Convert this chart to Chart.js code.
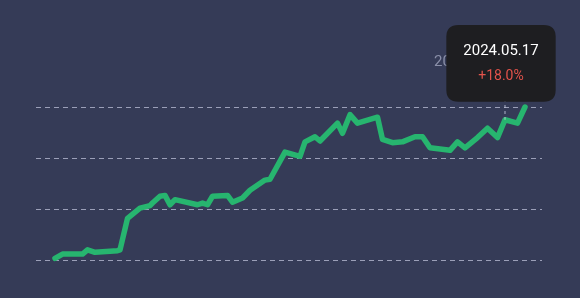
<!DOCTYPE html>
<html>
<head>
<meta charset="utf-8">
<script src="https://cdn.jsdelivr.net/npm/chart.js@4.4.1/dist/chart.umd.min.js"></script>
<style>
    html, body { margin: 0; padding: 0; background: #353b57; }
    #wrap { width: 580px; height: 298px; }
</style>
</head>
<body>
<div id="wrap"><canvas id="returns-chart"></canvas></div>
<script>
// Dias desde el inicio (eje X) y rendimiento acumulado en %
const dayIndex = [0, 3, 11, 13, 16, 25, 26, 29, 34, 38, 39, 42, 44, 46, 48, 57, 59, 61, 63, 69,
    71, 75, 78, 84, 86, 92, 98, 100, 104, 106, 113, 115, 118, 121, 129, 131, 135, 139, 144, 147,
    150, 158, 161, 164, 169, 173, 177, 180, 185, 188];
const returnPct = [0.2, 0.7, 0.7, 1.2, 0.9, 1.1, 1.2, 4.9, 6.1, 6.4, 6.7, 7.5, 7.6, 6.5, 7.1, 6.5, 6.7, 6.5, 7.5, 7.6,
    6.8, 7.3, 8.2, 9.4, 9.5, 12.7, 12.2, 13.9, 14.5, 14.0, 16.1, 14.9, 17.1, 16.1, 16.8, 14.2, 13.8, 13.9, 14.5, 14.5,
    13.2, 12.9, 13.9, 13.2, 14.4, 15.5, 14.4, 16.5, 16.1, 18.0];
const yTicks = [0, 6, 12, 18];
const tooltipDate = '2024.05.17';
const tooltipValue = '+18.0%';

Chart.Tooltip.positioners.aboveChart = function (elements) {
    if (!elements.length) return false;
    const el = elements[0].element;
    return { x: el.x - 24, y: this.chart.chartArea.top - 82 };
};

// texto gris detras del tooltip + linea de cruce
const overlayPlugin = {
    id: 'overlay',
    afterDatasetsDraw(chart) {
        const { ctx, chartArea } = chart;
        const pt = chart.getDatasetMeta(0).data[47];
        ctx.save();
        ctx.font = '15px Roboto';
        ctx.fillStyle = '#8a8fa8';
        ctx.textBaseline = 'middle';
        ctx.fillText(tooltipDate, chartArea.right - 108, chartArea.top - 45);
        ctx.strokeStyle = 'rgba(205,210,230,0.8)';
        ctx.lineWidth = 1;
        ctx.setLineDash([3, 3]);
        ctx.beginPath();
        ctx.moveTo(pt.x, chartArea.top - 8);
        ctx.lineTo(pt.x, pt.y);
        ctx.stroke();
        ctx.restore();
    }
};

const chart = new Chart(document.getElementById('returns-chart'), {
    type: 'line',
    data: {
        datasets: [{
            data: dayIndex.map((d, i) => ({ x: d, y: returnPct[i] })),
            borderColor: '#27b56f',
            borderWidth: 5.5,
            borderJoinStyle: 'round',
            borderCapStyle: 'round',
            tension: 0,
            pointRadius: 0,
            pointHoverRadius: 0,
            fill: false,
            clip: 10
        }]
    },
    options: {
        responsive: true,
        maintainAspectRatio: false,
        animation: false,
        events: [],
        layout: { padding: { left: 36, right: 38, top: 107, bottom: 38 } },
        plugins: {
            legend: { display: false },
            tooltip: {
                position: 'aboveChart',
                xAlign: 'center',
                yAlign: 'top',
                caretSize: 0,
                caretPadding: 0,
                backgroundColor: '#1e1e21',
                cornerRadius: 12,
                displayColors: false,
                padding: { top: 17, bottom: 17, left: 17, right: 17 },
                titleAlign: 'center',
                bodyAlign: 'center',
                titleColor: '#ffffff',
                titleFont: { family: 'Roboto', size: 15, weight: 'normal' },
                bodyFont: { family: 'Roboto', size: 14 },
                titleMarginBottom: 8,
                callbacks: {
                    title: () => tooltipDate,
                    label: () => tooltipValue,
                    labelTextColor: () => '#e2534b'
                }
            }
        },
        scales: {
            x: {
                type: 'linear',
                min: -7.6,
                max: 194.8,
                display: false
            },
            y: {
                min: yTicks[0],
                max: yTicks[yTicks.length - 1],
                afterBuildTicks: (axis) => { axis.ticks = yTicks.map(v => ({ value: v })); },
                ticks: { display: false },
                grid: {
                    color: 'rgba(200,203,225,0.7)',
                    lineWidth: 1,
                    drawTicks: false
                },
                border: { display: false, dash: [5, 4] }
            }
        }
    },
    plugins: [overlayPlugin]
});

chart.tooltip.setActiveElements([{ datasetIndex: 0, index: returnPct.length - 1 }], { x: 0, y: 0 });
chart.update();
</script>
</body>
</html>
